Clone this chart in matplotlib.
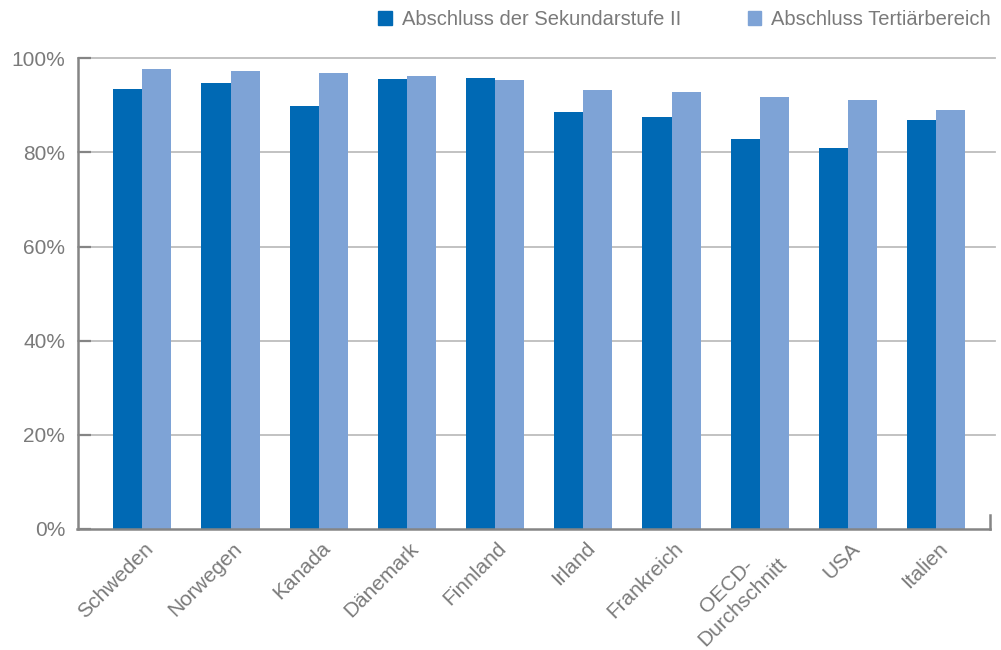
import numpy as np
import matplotlib.pyplot as plt
from matplotlib.patches import Patch
from matplotlib.lines import Line2D

laender = ["Schweden", "Norwegen", "Kanada", "Dänemark", "Finnland",
           "Irland", "Frankreich", "OECD-\nDurchschnitt", "USA", "Italien"]
sekundar = [93.5, 94.8, 89.9, 95.6, 95.8, 88.6, 87.6, 82.9, 81.0, 86.9]
tertiar = [97.7, 97.3, 96.9, 96.2, 95.4, 93.3, 92.9, 91.8, 91.2, 89.0]
yticks = [0, 20, 40, 60, 80, 100]

dunkel = "#0069b4"
hell = "#7ea3d6"
grau = "#7a7a7a"

plt.rcParams["font.family"] = ["Liberation Sans", "DejaVu Sans"]

fig = plt.figure(figsize=(10.01, 6.5), dpi=100)
ax = fig.add_axes([77.5 / 1001, 1 - 529 / 650, (990 - 77.5) / 1001, (529 - 58.3) / 650])

x = np.arange(len(laender))
w = 0.33
ax.bar(x - w / 2, sekundar, w, color=dunkel, zorder=3)
ax.bar(x + w / 2, tertiar, w, color=hell, zorder=3)

ax.set_xlim(-0.735, 9.61)
ax.set_ylim(0, 100)

# light grid lines, running a bit past the right end of the axis
for t in yticks[1:]:
    ax.axhline(t, xmin=0, xmax=1.0055, color="#bdbdbd", lw=1.3, zorder=1, clip_on=False)

for s in ["top", "right"]:
    ax.spines[s].set_visible(False)
for s in ["left", "bottom"]:
    ax.spines[s].set_color("#858585")
    ax.spines[s].set_linewidth(1.8)
    ax.spines[s].set_zorder(4)

# small upward mark at the right end of the baseline
ax.add_line(Line2D([1, 1], [0, 0.03], transform=ax.transAxes, color="#858585",
                   lw=1.8, clip_on=False, zorder=4))

ax.set_yticks(yticks)
ax.set_yticklabels([f"{t}%" for t in yticks])
ax.tick_params(axis="y", direction="in", length=9.5, width=1.6, color="#858585",
               labelsize=15, labelcolor=grau, pad=9)

ax.set_xticks(x + 0.02)
ax.set_xticklabels(laender, rotation=45, ha="right", rotation_mode="anchor",
                   multialignment="center")
ax.tick_params(axis="x", length=0, labelsize=15, labelcolor=grau, pad=7)

handles = [Patch(color=dunkel, label="Abschluss der Sekundarstufe II"),
           Patch(color=hell, label="Abschluss Tertiärbereich")]
fig.legend(handles=handles, loc="upper right", bbox_to_anchor=(1.0, 1.0), ncol=2,
           frameon=False, fontsize=14.5, labelcolor=grau, handlelength=0.68,
           handleheight=0.68, handletextpad=0.5, columnspacing=3.3,
           borderaxespad=0.1)

fig.savefig("out.png", dpi=100)
